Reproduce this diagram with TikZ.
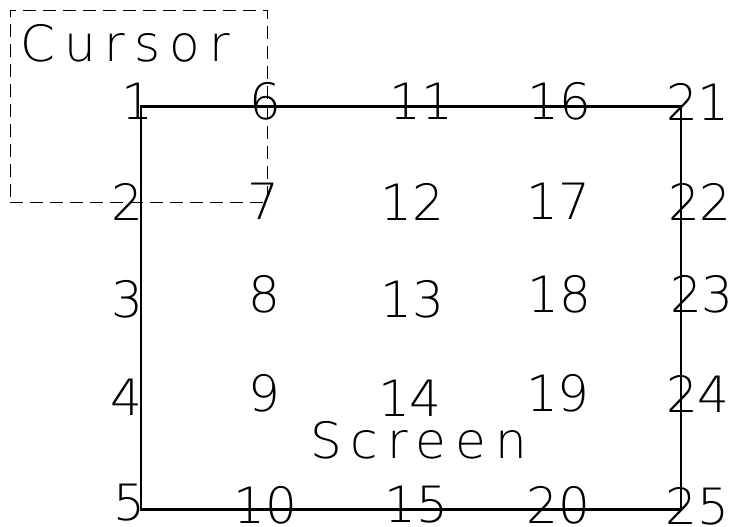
\documentclass[tikz,border=0pt]{standalone}
\usepackage{fontspec}
\newfontfamily\strokefont{DejaVuSans-ExtraLight.ttf}
\newfontfamily\strokewords{DejaVuSans-ExtraLight.ttf}[LetterSpace=18]
\usetikzlibrary{positioning}

\begin{document}
\begin{tikzpicture}[x=1pt, y=-1pt,
          scrbox/.style={draw=black, line width=2.2pt, minimum width=540pt,
                         minimum height=403pt, inner sep=0pt},
          curbox/.style={draw=black, line width=0.8pt, dash pattern=on 13pt off 7pt,
                         minimum width=257pt, minimum height=192pt, inner sep=0pt},
          num/.style={inner sep=0pt, font=\fontsize{50}{50}\strokefont},
          word/.style={inner sep=0pt, anchor=west, font=\fontsize{50}{50}\strokewords}
        ]
        \useasboundingbox (0,0) rectangle (733,527);

        % Screen and cursor frames
        \node[scrbox] (screen) at (411, 308) {};
        \node[curbox] (cursor) at (138.5, 106) {};
        \node[word] (curlbl) at (20, 43.5) {Cursor};
        \node[word] (scrlbl) at (310, 440) {Screen};

        % Column 1
        \node[num] (n1) at (137, 101.5) {1};
        \node[num] (n2) at (127.5, 201.5) {2};
        \node[num] (n3) at (127.5, 299.5) {3};
        \node[num] (n4) at (126.5, 397.5) {4};
        \node[num] (n5) at (129, 503) {5};

        % Column 2
        \node[num] (n6) at (265.5, 101.5) {6};
        \node[num] (n7) at (263.5, 201.5) {7};
        \node[num] (n8) at (264.5, 294) {8};
        \node[num] (n9) at (264.5, 393) {9};
        \node[num] (n10) at (265.5, 505) {10};

        % Column 3
        \node[num] (n11) at (421.5, 101.5) {11};
        \node[num] (n12) at (412.5, 201.5) {12};
        \node[num] (n13) at (412.5, 299.5) {13};
        \node[num] (n14) at (410, 398.5) {14};
        \node[num] (n15) at (416.5, 505) {15};

        % Column 4
        \node[num] (n16) at (559.5, 101.5) {16};
        \node[num] (n17) at (558.5, 201.5) {17};
        \node[num] (n18) at (559.5, 294) {18};
        \node[num] (n19) at (558, 393) {19};
        \node[num] (n20) at (558.5, 505) {20};

        % Column 5
        \node[num] (n21) at (698, 101.5) {21};
        \node[num] (n22) at (700, 201.5) {22};
        \node[num] (n23) at (702, 294) {23};
        \node[num] (n24) at (698, 393.5) {24};
        \node[num] (n25) at (697.5, 506) {25};
      \end{tikzpicture}
\end{document}
